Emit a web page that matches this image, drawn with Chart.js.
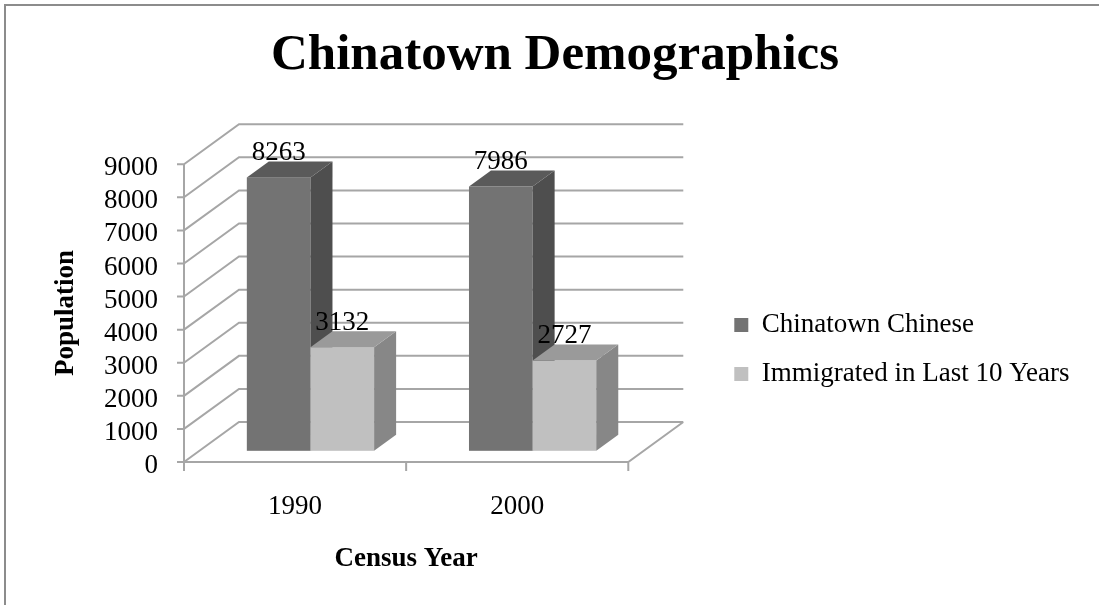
<!DOCTYPE html>
<html>
<head>
<meta charset="utf-8">
<script src="https://cdn.jsdelivr.net/npm/chart.js@4.4.1/dist/chart.umd.min.js"></script>
<style>
html,body{margin:0;padding:0;background:#fff;overflow:hidden}
canvas{display:block}
</style>
</head>
<body>
<canvas id="c" width="1099" height="605"></canvas>
<script>
// ---- data ----
const categories = ['1990', '2000'];
const seriesNames = ['Chinatown Chinese', 'Immigrated in Last 10 Years'];
const chinatownChinese = [8263, 7986];
const immigratedLast10 = [3132, 2727];
const yTickLabels = ['0', '1000', '2000', '3000', '4000', '5000', '6000', '7000', '8000', '9000'];

// ---- styles ----
const FONT = 'Liberation Serif';
const faces = [
  { front: '#737373', side: '#4e4e4e', top: '#5a5a5a' },
  { front: '#c0c0c0', side: '#878787', top: '#9a9a9a' }
];
const DEPTH = { dx: 55, dy: -40, f0: 0.28, fd: 0.4 };
const GRID = '#a6a6a6';

const bar3d = {
  id: 'bar3d',
  beforeDraw(chart) {
    const ctx = chart.ctx;
    ctx.save();
    ctx.strokeStyle = '#8c8c8c';
    ctx.lineWidth = 2;
    ctx.beginPath();
    ctx.moveTo(4, 5); ctx.lineTo(chart.width, 5);
    ctx.moveTo(5, 4); ctx.lineTo(5, chart.height);
    ctx.stroke();
    ctx.restore();
  },
  beforeDatasetsDraw(chart) {
    const ctx = chart.ctx;
    const { left: L, right: R, top: T, bottom: B } = chart.chartArea;
    const ys = chart.scales.y, xs = chart.scales.x;
    const { dx, dy } = DEPTH;
    ctx.save();
    ctx.strokeStyle = GRID;
    ctx.lineWidth = 2;
    ctx.beginPath();
    ys.ticks.forEach(t => {
      const y = ys.getPixelForValue(t.value);
      ctx.moveTo(L, y); ctx.lineTo(L + dx, y + dy); ctx.lineTo(R + dx, y + dy);
      ctx.moveTo(L - 7, y); ctx.lineTo(L, y);
    });
    ctx.moveTo(L, T); ctx.lineTo(L, B);
    ctx.moveTo(L, B); ctx.lineTo(R, B); ctx.lineTo(R + dx, B + dy);
    const n = xs.ticks.length;
    const w = (xs.right - xs.left) / n;
    for (let i = 0; i <= n; i++) {
      const x = xs.left + i * w;
      ctx.moveTo(x, B); ctx.lineTo(x, B + 9);
    }
    ctx.stroke();
    ctx.restore();
  },
  beforeDatasetDraw() { return false; },
  afterDatasetsDraw(chart) {
    const ctx = chart.ctx;
    const { dx, dy, f0, fd } = DEPTH;
    const ddx = fd * dx, ddy = fd * dy;
    const labels = [];
    ctx.save();
    chart.data.datasets.forEach((ds, di) => {
      const meta = chart.getDatasetMeta(di);
      const f = faces[di];
      meta.data.forEach((el, i) => {
        const p = el.getProps(['x', 'y', 'base', 'width'], true);
        const x0 = p.x - p.width / 2 + f0 * dx, x1 = p.x + p.width / 2 + f0 * dx;
        const yt = p.y + f0 * dy, yb = p.base + f0 * dy;
        ctx.fillStyle = f.front;
        ctx.fillRect(x0, yt, x1 - x0, yb - yt);
        ctx.fillStyle = f.side;
        ctx.beginPath();
        ctx.moveTo(x1, yt); ctx.lineTo(x1 + ddx, yt + ddy); ctx.lineTo(x1 + ddx, yb + ddy); ctx.lineTo(x1, yb);
        ctx.closePath(); ctx.fill();
        ctx.fillStyle = f.top;
        ctx.beginPath();
        ctx.moveTo(x0, yt); ctx.lineTo(x0 + ddx, yt + ddy); ctx.lineTo(x1 + ddx, yt + ddy); ctx.lineTo(x1, yt);
        ctx.closePath(); ctx.fill();
        labels.push({ x: (x0 + x1) / 2, y: yt + ddy - 1.5, text: String(ds.data[i]) });
      });
    });
    ctx.fillStyle = '#000';
    ctx.font = '27px "' + FONT + '"';
    ctx.textAlign = 'center';
    ctx.textBaseline = 'alphabetic';
    labels.forEach(l => ctx.fillText(l.text, l.x, l.y));
    ctx.restore();
  }
};

new Chart(document.getElementById('c'), {
  type: 'bar',
  data: {
    labels: categories,
    datasets: [
      { label: seriesNames[0], data: chinatownChinese, backgroundColor: faces[0].front, borderWidth: 0 },
      { label: seriesNames[1], data: immigratedLast10, backgroundColor: faces[1].front, borderWidth: 0 }
    ]
  },
  options: {
    responsive: false,
    animation: false,
    devicePixelRatio: 1,
    categoryPercentage: 0.573,
    barPercentage: 1.0,
    layout: { padding: { left: 30.5, right: 19.5, top: 0, bottom: 0 } },
    plugins: {
      tooltip: { enabled: false },
      title: {
        display: true,
        text: 'Chinatown Demographics',
        color: '#000',
        font: { family: FONT, size: 51, weight: 'bold' },
        padding: { top: 25, bottom: 78 }
      },
      legend: {
        position: 'right',
        align: 'center',
        fullSize: false,
        maxWidth: 367.5,
        title: { display: true, text: ' ', font: { size: 12 }, padding: { top: 58.6, bottom: 0 } },
        labels: {
          color: '#000',
          font: { family: FONT, size: 27 },
          boxWidth: 14,
          boxHeight: 14,
          padding: 22
        }
      }
    },
    scales: {
      x: {
        type: 'category',
        grid: { display: false, drawTicks: false },
        border: { display: false },
        ticks: { color: '#000', font: { family: FONT, size: 27 }, padding: 28.8 },
        title: {
          display: true, text: 'Census Year', color: '#000',
          font: { family: FONT, size: 27, weight: 'bold' },
          padding: { top: 19.6, bottom: 29.8 }
        },
        afterFit(s) { s.height = 143; }
      },
      y: {
        min: 0, max: 9000,
        grid: { display: false, drawTicks: false },
        border: { display: false },
        ticks: {
          stepSize: 1000, autoSkip: false, color: '#000', font: { family: FONT, size: 27 },
          padding: 26, labelOffset: 4,
          callback: (v, i) => yTickLabels[i]
        },
        title: {
          display: true, text: 'Population', color: '#000',
          font: { family: FONT, size: 27, weight: 'bold' },
          padding: { top: 19.3, bottom: 0 }
        },
        afterFit(s) { s.width = 153.5; }
      },
      yR: {
        type: 'linear',
        position: 'right',
        display: true,
        grid: { display: false, drawTicks: false },
        border: { display: false },
        ticks: { display: false },
        afterFit(s) { s.width = 84; }
      }
    }
  },
  plugins: [bar3d]
});
</script>
</body>
</html>
